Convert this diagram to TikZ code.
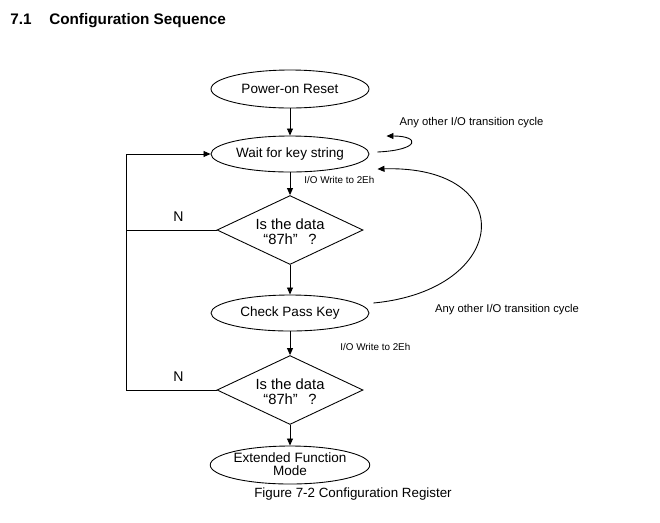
\documentclass[tikz,border=0pt]{standalone}
\usepackage{fontspec}
\setmainfont{Liberation Sans}
\usetikzlibrary{positioning,shapes.geometric,arrows.meta}

\newcommand{\twoline}[3][-8.2pt]{\raisebox{#1}[0pt][0pt]{\begin{tabular}[b]{@{}c@{}}#2\\#3\end{tabular}}}

\begin{document}
\begin{tikzpicture}[line width=0.5pt,
  every node/.style={font=\fontsize{7.7}{9.4}\selectfont},
  process/.style={ellipse,draw,minimum width=3.16cm,minimum height=0.76cm,inner sep=0pt},
  decision/.style={diamond,draw,minimum width=2.92cm,minimum height=1.34cm,inner sep=0pt,font=\fontsize{8.4}{7.5}\selectfont},
  small/.style={font=\fontsize{5.6}{6.5}\selectfont},
  note/.style={font=\fontsize{6.4}{7.5}\selectfont},
  arr/.style={-{Triangle[length=4pt,width=3.4pt]}}]

\useasboundingbox (0,0) rectangle (13.2,-10.44);

\node (title) [anchor=west, inner sep=0pt, font=\fontsize{8.7}{10}\selectfont\bfseries] at (0.2,-0.42) {7.1\hspace{10pt}Configuration Sequence};

\begin{scope}[on grid]
\node (pwr) [process] at (5.8,-1.78) {Power-on Reset};
\node (wait) [process, below=1.3cm of pwr, minimum height=0.72cm] {Wait for key string};
\node (chk1) [decision, below=1.52cm of wait] {\twoline{Is the data}{“87h”\hspace{6pt}?}};
\node (pass) [process, below=1.66cm of chk1, minimum height=0.72cm] {Check Pass Key};
\node (chk2) [decision, below=1.54cm of pass] {\twoline{Is the data}{“87h”\hspace{6pt}?}};
\node (ext) [process, below=1.5cm of chk2, font=\fontsize{7.7}{6}\selectfont] {\twoline[-6.2pt]{Extended Function}{Mode}};
\end{scope}

\coordinate (lp) at (2.52,0);

\draw[arr] (pwr) -- (wait);
\draw[arr] (wait) -- (chk1);
\draw[arr] (chk1) -- (pass);
\draw[arr] (pass) -- (chk2);
\draw[arr] (chk2) -- (ext);

% N branches back to the wait state
\draw (chk1.west) -- node (n1) [pos=0.42, above=1.4pt, font=\fontsize{8}{9}\selectfont] {N} (chk1.west -| lp);
\draw[arr] (chk2.west) -- node (n2) [pos=0.42, above=1.4pt, font=\fontsize{8}{9}\selectfont] {N} (chk2.west -| lp) |- (wait.west);

\draw[arr] ([shift={(0.16,0.04)}]wait.east) .. controls +(0.86,0.04) and +(0.68,0) .. ([shift={(0.34,0.36)}]wait.east);
\draw[arr] ([shift={(0.08,0.2)}]pass.east) .. controls +(2.74,0.26) and +(2.86,0.08) .. ([shift={(0.16,-0.3)}]wait.east);

\node (any1) [note] at (9.43,-2.46) {Any other I/O transition cycle};
\node (any2) [note] at (10.14,-6.2) {Any other I/O transition cycle};
\node (io1) [small, anchor=west, inner sep=0pt] at (6.08,-3.6) {I/O Write to 2Eh};
\node (io2) [small, anchor=west, inner sep=0pt] at (6.8,-6.94) {I/O Write to 2Eh};

\node (cap) [font=\fontsize{7.6}{9}\selectfont] at (7.06,-9.88) {Figure 7-2 Configuration Register};

\end{tikzpicture}
\end{document}
